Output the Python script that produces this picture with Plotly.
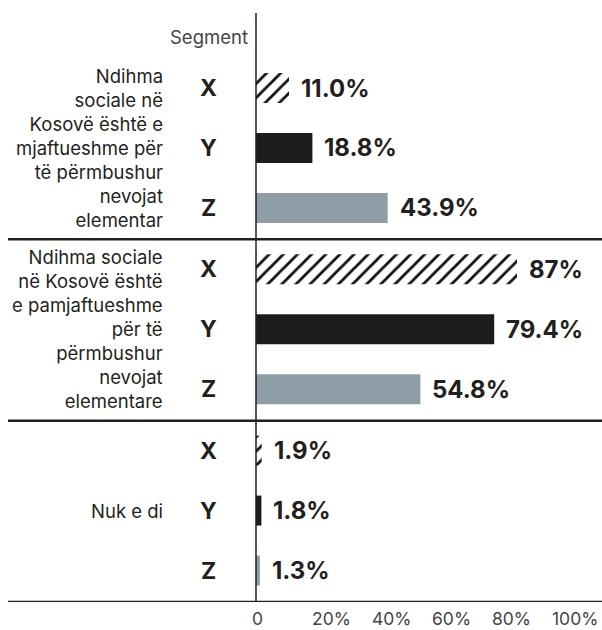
import plotly.graph_objects as go

# Statement groups (row labels) and respondent segments
statements = [
    "Ndihma<br>sociale në<br>Kosovë është e<br>mjaftueshme për<br>të përmbushur<br>nevojat<br>elementar",
    "Ndihma sociale<br>në Kosovë është<br>e pamjaftueshme<br>për të<br>përmbushur<br>nevojat<br>elementare",
    "Nuk e di",
]
segments = ["X", "Y", "Z"]

# Share of respondents per statement, one list per segment (percent)
values_x = [11.0, 87.0, 1.9]
values_y = [18.8, 79.4, 1.8]
values_z = [43.9, 54.8, 1.3]
labels_x = ["11.0%", "87%", "1.9%"]
labels_y = ["18.8%", "79.4%", "1.8%"]
labels_z = ["43.9%", "54.8%", "1.3%"]

tick_values = [0, 20, 40, 60, 80, 100]
tick_labels = ["0", "20%", "40%", "60%", "80%", "100%"]

# ---- layout constants ----
W, H = 602, 630
ML, MR, MT, MB = 256, 0, 13, 28
PLOT_W = W - ML - MR
PX_PER_PCT = 3.0
GROUP_STEP = 3.025
TEXT = "#231f20"
SOFT = "#444444"
FONT = "Inter"

series = [
    (values_x, labels_x, dict(color="white",
                              pattern=dict(shape="/", fgcolor="#111111", bgcolor="white",
                                           size=10, solidity=0.28, fgopacity=1,
                                           fillmode="overlay"))),
    (values_y, labels_y, dict(color="#1b1c1d")),
    (values_z, labels_z, dict(color="#8e9ea7")),
]

fig = go.Figure()
annotations = []

for s_idx, (vals, labs, marker) in enumerate(series):
    ys = [g * GROUP_STEP + s_idx for g in range(len(statements))]
    fig.add_trace(go.Bar(
        x=vals, y=ys, orientation="h", width=0.5,
        marker=dict(line=dict(width=0), **marker),
        name=segments[s_idx], showlegend=False, hoverinfo="skip",
    ))
    for v, y, lab in zip(vals, ys, labs):
        annotations.append(dict(
            x=v, y=y, xref="x", yref="y", text=lab, showarrow=False,
            xanchor="left", yanchor="middle", xshift=10,
            font=dict(family=FONT, size=24, color=TEXT, weight="bold"),
        ))
        # segment letter beside each bar
        annotations.append(dict(
            x=0, y=y, xref="paper", yref="y", text=segments[s_idx], showarrow=False,
            xanchor="center", yanchor="middle", xshift=-48,
            font=dict(family=FONT, size=23, color=TEXT, weight="bold"),
        ))

# statement labels, centred on the middle row of each group
for g, st in enumerate(statements):
    annotations.append(dict(
        x=0, y=g * GROUP_STEP + 1, xref="paper", yref="y", text=st, showarrow=False,
        xanchor="right", yanchor="middle", align="right", xshift=-91,
        font=dict(family=FONT, size=18.5, color=TEXT),
    ))

# column header
annotations.append(dict(
    x=0, y=-0.85, xref="paper", yref="y", text="Segment", showarrow=False,
    xanchor="right", yanchor="middle", xshift=-6,
    font=dict(family=FONT, size=18.5, color=SOFT),
))

# percentage scale below the chart
for tv, tl in zip(tick_values, tick_labels):
    annotations.append(dict(
        x=tv, y=0, xref="x", yref="paper", text=tl, showarrow=False,
        xanchor="left", yanchor="bottom", xshift=-5, yshift=-MB, borderpad=0,
        font=dict(family=FONT, size=17.5, color=SOFT),
    ))

# group separators and the zero line
shapes = []
left_px = 8
for g in range(len(statements)):
    yline = g * GROUP_STEP + 2.525
    shapes.append(dict(
        type="line", xref="paper", yref="y",
        x0=(left_px - ML) / PLOT_W, x1=1.0, y0=yline, y1=yline,
        line=dict(color=TEXT, width=2.5),
    ))
shapes.append(dict(
    type="line", xref="paper", yref="paper", x0=0, x1=0, y0=0, y1=1,
    line=dict(color=TEXT, width=1.5),
))

y_bottom = (len(statements) - 1) * GROUP_STEP + 2.525
y_top = y_bottom - (H - MT - MB) / 59.94

fig.update_layout(
    width=W, height=H,
    margin=dict(l=ML, r=MR, t=MT, b=MB, pad=0),
    paper_bgcolor="white", plot_bgcolor="white",
    barmode="overlay",
    xaxis=dict(range=[0, PLOT_W / PX_PER_PCT], visible=False, fixedrange=True),
    yaxis=dict(range=[y_bottom, y_top], visible=False, fixedrange=True),
    annotations=annotations,
    shapes=shapes,
    font=dict(family=FONT, color=TEXT),
)

fig.write_html("out.html")
